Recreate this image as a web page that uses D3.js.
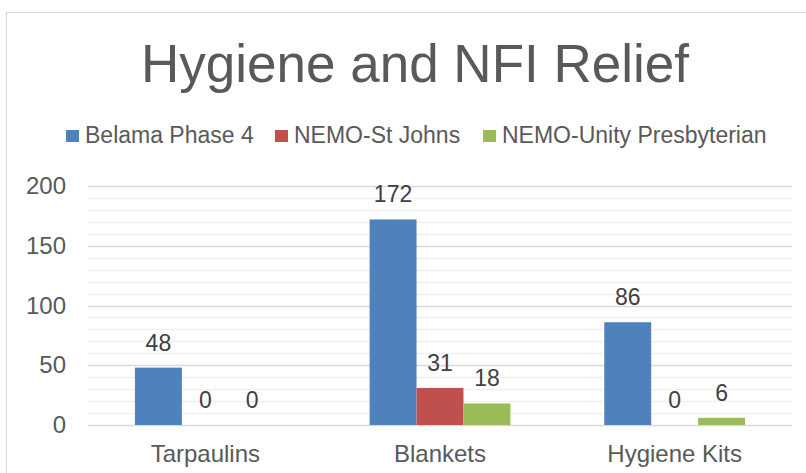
<!DOCTYPE html>
<html>
<head>
<meta charset="utf-8">
<script src="https://cdn.jsdelivr.net/npm/d3@7"></script>
<style>
  body { margin: 0; background: #fff; }
  svg { display: block; font-family: "Liberation Sans", Arial, sans-serif; }
</style>
</head>
<body>
<svg width="806" height="473"></svg>
<script>
var categories = ["Tarpaulins", "Blankets", "Hygiene Kits"];
var seriesNames = ["Belama Phase 4", "NEMO-St Johns", "NEMO-Unity Presbyterian"];
var belama = [48, 172, 86];
var stJohns = [0, 31, 0];
var unity = [0, 18, 6];
var yTicks = [0, 50, 100, 150, 200];
var colors = ["#4F81BD", "#C0504D", "#9BBB59"];

var svg = d3.select("svg"),
    margin = {top: 186, right: 14, bottom: 48, left: 88},
    width = 792 - margin.left,
    height = 425 - margin.top;

var values = [belama, stJohns, unity];
var data = categories.map(function (c, i) {
    return {cat: c, vals: seriesNames.map(function (s, j) { return {key: s, value: values[j][i]}; })};
});

// chart frame
svg.append("rect")
    .attr("x", 6.5).attr("y", 12.5)
    .attr("width", 820).attr("height", 480)
    .attr("fill", "none").attr("stroke", "#D9D9D9");

svg.append("text")
    .attr("x", 415).attr("y", 82)
    .attr("text-anchor", "middle")
    .attr("fill", "#595959")
    .style("font-size", "53px")
    .text("Hygiene and NFI Relief");

var g = svg.append("g").attr("transform", "translate(" + margin.left + "," + margin.top + ")");

var x0 = d3.scaleBand().domain(categories).range([0, width]).paddingInner(0.4).paddingOuter(0.2);
var x1 = d3.scaleBand().domain(seriesNames).range([0, x0.bandwidth()]);
var y = d3.scaleLinear().domain([0, 200]).range([height, 0]);

// minor gridlines
g.append("g").selectAll("line")
    .data(d3.range(10, 200, 10).filter(function (v) { return v % 50 !== 0; }))
    .enter().append("line")
    .attr("x1", 0).attr("x2", width)
    .attr("y1", function (d) { return Math.round(y(d)) + 0.5; })
    .attr("y2", function (d) { return Math.round(y(d)) + 0.5; })
    .attr("stroke", "#F0F0F0").attr("stroke-width", 1.5);

// major gridlines
g.append("g").selectAll("line")
    .data(yTicks)
    .enter().append("line")
    .attr("x1", 0).attr("x2", width)
    .attr("y1", function (d) { return Math.round(y(d)) + 0.5; })
    .attr("y2", function (d) { return Math.round(y(d)) + 0.5; })
    .attr("stroke", "#D9D9D9").attr("stroke-width", 1.5);

var yAxis = g.append("g")
    .call(d3.axisLeft(y).tickValues(yTicks).tickSize(0).tickPadding(22));
yAxis.select(".domain").remove();
yAxis.selectAll("text").attr("fill", "#595959").style("font-size", "24px")
    .attr("font-family", null);

var xAxis = g.append("g")
    .attr("transform", "translate(0," + height + ")")
    .call(d3.axisBottom(x0).tickSize(0).tickPadding(20));
xAxis.select(".domain").remove();
xAxis.selectAll("text").attr("fill", "#595959").style("font-size", "24px")
    .attr("font-family", null);

var groups = g.selectAll(".grp")
    .data(data)
    .enter().append("g")
    .attr("class", "grp")
    .attr("transform", function (d) { return "translate(" + x0(d.cat) + ",0)"; });

groups.selectAll("rect")
    .data(function (d) { return d.vals; })
    .enter().append("rect")
    .attr("x", function (d) { return x1(d.key); })
    .attr("width", x1.bandwidth())
    .attr("y", function (d) { return y(d.value); })
    .attr("height", function (d) { return height - y(d.value); })
    .attr("fill", function (d, i) { return colors[i]; });

groups.selectAll(".lbl")
    .data(function (d) { return d.vals; })
    .enter().append("text")
    .attr("class", "lbl")
    .attr("x", function (d) { return x1(d.key) + x1.bandwidth() / 2; })
    .attr("y", function (d) { return y(d.value) - 17; })
    .attr("text-anchor", "middle")
    .attr("fill", "#404040")
    .style("font-size", "23px")
    .text(function (d) { return d.value; });

// legend
var legendX = [66, 275, 483];
var legend = svg.selectAll(".legend")
    .data(seriesNames)
    .enter().append("g")
    .attr("class", "legend")
    .attr("transform", function (d, i) { return "translate(" + legendX[i] + ",130)"; });

legend.append("rect")
    .attr("width", 13).attr("height", 12)
    .attr("fill", function (d, i) { return colors[i]; });

legend.append("text")
    .attr("x", 19).attr("y", 12.5)
    .attr("fill", "#595959")
    .style("font-size", "23px")
    .text(function (d) { return d; });
</script>
</body>
</html>
